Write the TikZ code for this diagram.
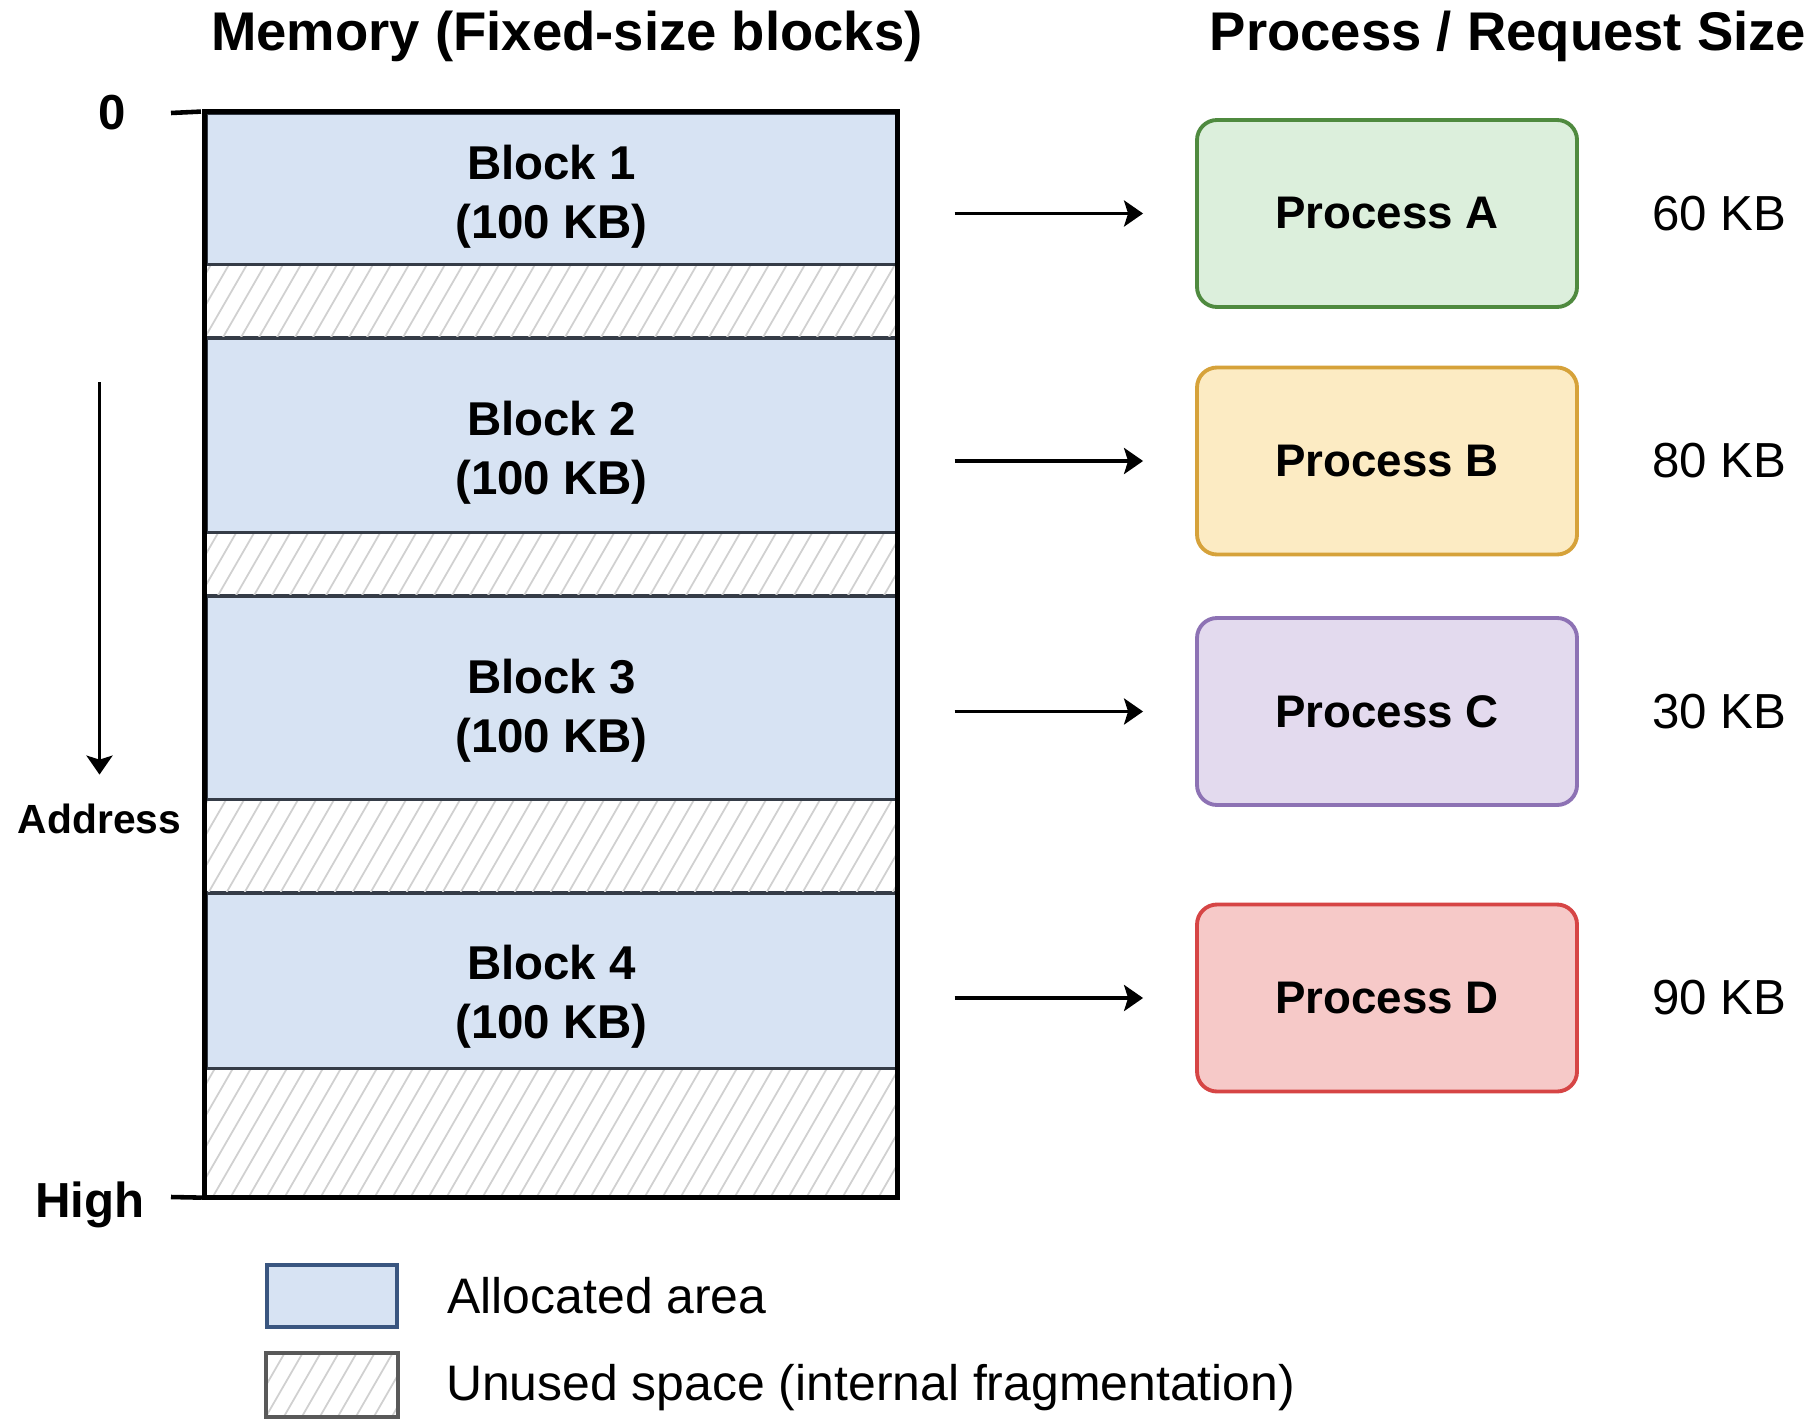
\documentclass[tikz,border=0pt]{standalone}
\usepackage{fontspec}
\setmainfont{Liberation Sans}
\usetikzlibrary{positioning,arrows.meta}

\definecolor{memblue}{HTML}{D7E3F3}
\definecolor{linegray}{HTML}{353C47}
\definecolor{hatchgray}{HTML}{D0D0D0}
\definecolor{legblue}{HTML}{3A5680}
\definecolor{fillA}{HTML}{DCEFDC}
\definecolor{drawA}{HTML}{4F8A3F}
\definecolor{fillB}{HTML}{FCEBC3}
\definecolor{drawB}{HTML}{D6A23A}
\definecolor{fillC}{HTML}{E3DAEE}
\definecolor{drawC}{HTML}{8D72B4}
\definecolor{fillD}{HTML}{F6C9C8}
\definecolor{drawD}{HTML}{D64545}

\begin{document}
\begin{tikzpicture}[> = {Stealth[length=0.19cm, width=0.26cm, inset=0.04cm]},  shorten > = 1pt,   auto,   x = 1cm, y = -1cm]
            \tikzstyle{bloco}=[rectangle, draw=linegray, line width=0.9pt, fill=memblue, minimum width=6.91cm, inner sep=0pt]
            \tikzstyle{livre}=[rectangle, fill=white, minimum width=6.91cm, inner sep=0pt]
            \tikzstyle{rotulo}=[align=center, font=\fontsize{13.5}{16.8}\selectfont\bfseries]
            \tikzstyle{processo}=[rectangle, rounded corners=0.2cm, line width=1.1pt, minimum width=3.8cm, minimum height=1.87cm, font=\fontsize{13}{15}\selectfont\bfseries]
            \tikzstyle{tamanho}=[font=\fontsize{14}{16}\selectfont]
            \tikzstyle{titulo}=[font=\fontsize{15.5}{18}\selectfont\bfseries]
            \tikzstyle{legenda}=[font=\fontsize{14.2}{17}\selectfont]
            \tikzstyle{seta}=[->, line width=1.1pt, shorten < = 0.56cm, shorten > = 0.52cm]

                \path[use as bounding box, fill=white] (0,0) rectangle (18.14,14.18);

                % Titulos
                \node[titulo] (tmem) at (5.67,0.36) {Memory (Fixed-size blocks)};
                \node[titulo] (tproc) at (15.08,0.36) {Process / Request Size};

                % Blocos
                \node[bloco, minimum height=1.52cm] (b1) at (5.515,1.89) {};
                \node[livre, minimum height=0.73cm] (h1) at (5.515,3.015) {};
                \node[bloco, minimum height=1.95cm] (b2) at (5.515,4.355) {};
                \node[livre, minimum height=0.63cm] (h2) at (5.515,5.645) {};
                \node[bloco, minimum height=2.04cm] (b3) at (5.515,6.98) {};
                \node[livre, minimum height=0.93cm] (h3) at (5.515,8.465) {};
                \node[bloco, minimum height=1.76cm] (b4) at (5.515,9.81) {};
                \node[livre, minimum height=1.28cm] (h4) at (5.515,11.33) {};

                \node[rotulo] at (b1) [yshift=-0.08cm] {Block 1\\(100 KB)};
                \node[rotulo] at (b2) [yshift=-0.17cm] {Block 2\\(100 KB)};
                \node[rotulo] at (b3) [yshift=-0.13cm] {Block 3\\(100 KB)};
                \node[rotulo] at (b4) [yshift=-0.16cm] {Block 4\\(100 KB)};

                % Legenda
                \node[bloco, minimum width=1.3cm, minimum height=0.62cm, draw=legblue, line width=1.2pt] (lA) at (3.32,12.96) {};
                \node[livre, minimum width=1.3cm, minimum height=0.62cm] (lB) at (3.32,13.85) {};
                \node[legenda, right=0.36cm of lA] (tA) {Allocated area};
                \node[legenda, right=0.36cm of lB, yshift=-0.03cm] (tB) {Unused space (internal fragmentation)};

                % Hachura
                \begin{scope}
                    \clip (h1.north west) rectangle (h1.south east) (h2.north west) rectangle (h2.south east)
                          (h3.north west) rectangle (h3.south east) (h4.north west) rectangle (h4.south east)
                          (lB.north west) rectangle (lB.south east);
                    \foreach \x in {-6,-5.82,...,9.2}
                        \draw[hatchgray, line width=0.5pt] (\x,14.2) -- ++(7.62,-13.2);
                \end{scope}
                \foreach \h in {h1,h2,h3,h4}
                    \draw[linegray, line width=0.9pt] (\h.north west) rectangle (\h.south east);
                \draw[gray!70!black, line width=1.2pt] (lB.north west) rectangle (lB.south east);
                \draw[line width=1.5pt] (b1.north west) rectangle (h4.south east);

                % Enderecos
                \node[font=\fontsize{14}{16}\selectfont\bfseries] (zero) at (1.12,1.13) {0};
                \node[font=\fontsize{14}{16}\selectfont\bfseries] (high) at (0.90,12.05) {High};
                \coordinate (t0) at (1.71,1.13);
                \coordinate (tH) at (1.71,11.97);
                \draw[line width=1.3pt] (t0) -- (b1.north west);
                \draw[line width=1.3pt] (tH) -- (h4.south west);
                \node[font=\fontsize{11.6}{14}\selectfont\bfseries] (addr) at (0.995,8.19) {Address};
                \coordinate (a0) at (0.995,3.82);
                \draw[->, line width=0.9pt, shorten > = 0.17cm] (a0) -- (addr.north);

                % Processos
                \node[processo, fill=fillA, draw=drawA] (pA) at (13.87,2.135) {Process A};
                \node[processo, fill=fillB, draw=drawB] (pB) at (13.87,4.61) {Process B};
                \node[processo, fill=fillC, draw=drawC] (pC) at (13.87,7.115) {Process C};
                \node[processo, fill=fillD, draw=drawD] (pD) at (13.87,9.98) {Process D};

                \node[tamanho, right=0.61cm of pA] (sA) {60 KB};
                \node[tamanho, right=0.61cm of pB] (sB) {80 KB};
                \node[tamanho, right=0.61cm of pC] (sC) {30 KB};
                \node[tamanho, right=0.61cm of pD] (sD) {90 KB};

                % Setas
                \draw[seta] (b1.east |- pA.west) -- (pA.west);
                \draw[seta] (b2.east |- pB.west) -- (pB.west);
                \draw[seta] (b3.east |- pC.west) -- (pC.west);
                \draw[seta] (b4.east |- pD.west) -- (pD.west);
        \end{tikzpicture}
\end{document}
